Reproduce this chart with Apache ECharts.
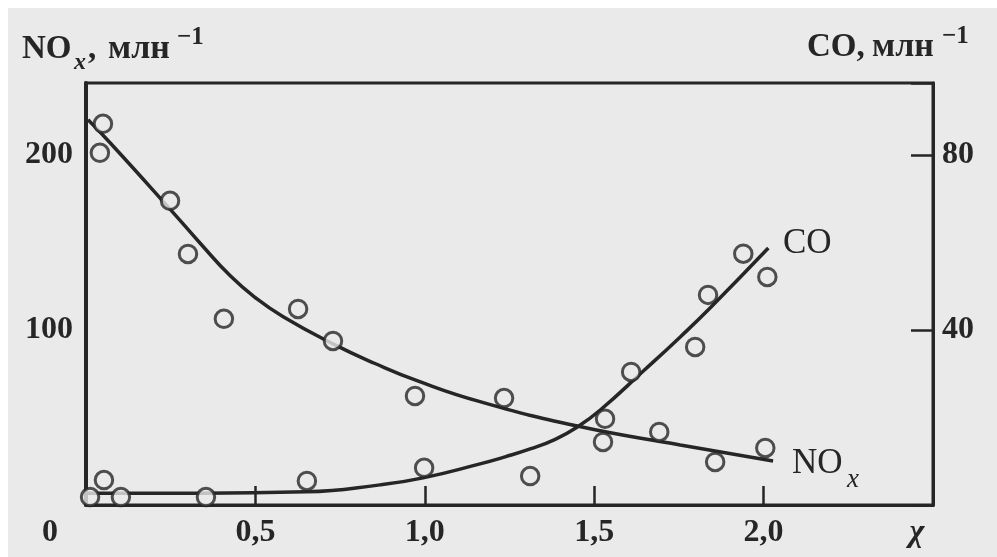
<!DOCTYPE html>
<html><head><meta charset="utf-8">
<script src="https://cdn.jsdelivr.net/npm/echarts@6/dist/echarts.min.js"></script>
<style>html,body{margin:0;padding:0;background:#fff}#c{width:997px;height:557px}</style>
</head><body><div id="c"></div>
<script>
// x (excess air ratio χ) tick values and labels
const xTickValues = [0, 0.5, 1.0, 1.5, 2.0, 2.5];
const xTickLabels = ['0', '0,5', '1,0', '1,5', '2,0', 'χ'];
const leftTickLabels = {100: '100', 200: '200'};
const rightTickLabels = {40: '40', 80: '80'};

// measured NOx points (x, ppm) – left axis
const noxX = [0.050, 0.041, 0.248, 0.301, 0.407, 0.626, 0.729, 0.971, 1.234, 1.526, 1.692, 1.857, 2.005];
const noxY = [217.7, 201.1, 173.7, 143.4, 106.3, 112.0, 93.7, 62.3, 61.1, 36.0, 41.7, 24.6, 32.6];
// measured CO points (x, ppm) – right axis
const coX = [0.012, 0.053, 0.103, 0.354, 0.652, 0.998, 1.311, 1.532, 1.609, 1.798, 1.836, 1.940, 2.011];
const coY = [1.8, 5.7, 1.8, 1.8, 5.5, 8.5, 6.6, 19.7, 30.4, 36.1, 48.0, 57.4, 52.1];

// fitted curves
const noxCurveX = [0.006, 0.071, 0.248, 0.337, 0.425, 0.499, 0.582, 0.729, 0.853, 0.977, 1.163, 1.450, 1.754, 2.028];
const noxCurveY = [220.0, 206.9, 169.0, 149.5, 131.0, 118.5, 107.5, 92.0, 80.8, 71.0, 59.0, 45.1, 34.3, 25.1];
const coCurveX = [0.0, 0.337, 0.650, 0.868, 0.995, 1.163, 1.237, 1.311, 1.385, 1.450, 1.518, 1.645, 1.754, 1.842, 2.014];
const coCurveY = [2.7, 2.7, 3.0, 4.6, 6.2, 9.4, 11.0, 12.8, 15.0, 17.8, 21.7, 30.6, 38.4, 45.0, 58.7];

const zip = (a, b) => a.map((v, i) => [v, b[i]]);
const INK = '#262626';
const BG = '#eaeaea';
const SERIF = '"Liberation Serif", "DejaVu Serif", serif';
const T = (x, y, text, font) => ({type: 'text', z: 10, style: {x, y, text, font: font + ' ' + SERIF, fill: INK, verticalAlign: 'middle'}});

const chart = echarts.init(document.getElementById('c'));
chart.setOption({
  backgroundColor: '#ffffff',
  animation: false,
  textStyle: {fontFamily: SERIF},
  graphic: [
    {type: 'rect', z: -10, shape: {x: 8, y: 8, width: 989, height: 549}, style: {fill: BG}},
    T(22, 49, 'NO', 'bold 33px'),
    T(74, 63, 'x', 'italic bold 24px'),
    T(88, 49, ',', 'bold 33px'),
    T(108, 49, 'млн', 'bold 34px'),
    T(177, 38, '−1', 'bold 25px'),
    T(807, 47, 'CO,', 'bold 33px'),
    T(872, 47, 'млн', 'bold 34px'),
    T(942, 37, '−1', 'bold 25px'),
    T(783, 244, 'CO', '35px'),
    T(792, 464, 'NO', '35px'),
    T(847, 480, 'x', 'italic 27px')
  ],
  grid: {left: 86, right: 64, top: 83, bottom: 52, show: true, borderColor: INK, borderWidth: 3, backgroundColor: 'transparent'},
  xAxis: {
    type: 'value', min: 0, max: 2.5, interval: 0.5,
    axisLine: {show: true, lineStyle: {color: INK, width: 3}},
    axisTick: {show: true, inside: true, length: 19, lineStyle: {color: INK, width: 2.5}},
    splitLine: {show: false},
    axisLabel: {
      margin: 12, color: INK, fontSize: 32, fontWeight: 'bold', fontFamily: SERIF,
      showMinLabel: true, showMaxLabel: true,
      formatter: function (v) {
        const i = xTickValues.findIndex(t => Math.abs(t - v) < 1e-6);
        if (i < 0) return '';
        if (i === 0) return '{o|' + xTickLabels[i] + '}';
        if (i === xTickValues.length - 1) return '{c|' + xTickLabels[i] + '}';
        return xTickLabels[i];
      },
      rich: {
        o: {fontSize: 32, fontWeight: 'bold', fontFamily: SERIF, color: INK, padding: [0, 72, 0, 0]},
        c: {fontSize: 32, fontStyle: 'italic', fontWeight: 'bold', fontFamily: SERIF, color: INK, padding: [0, 32, 0, 0]}
      }
    }
  },
  yAxis: [
    {
      type: 'value', min: 0, max: 241, interval: 100, position: 'left',
      axisLine: {show: true, lineStyle: {color: INK, width: 4}},
      axisTick: {show: false},
      splitLine: {show: false},
      axisLabel: {margin: 13, color: INK, fontSize: 32, fontWeight: 'bold', fontFamily: SERIF,
        formatter: v => leftTickLabels[Math.round(v)] && Math.abs(v - Math.round(v)) < 1e-6 ? leftTickLabels[Math.round(v)] : ''}
    },
    {
      type: 'value', min: 0, max: 96.4, interval: 40, position: 'right',
      axisLine: {show: true, lineStyle: {color: INK, width: 3}},
      axisTick: {show: true, inside: true, length: 22, lineStyle: {color: INK, width: 2.5}},
      splitLine: {show: false},
      axisLabel: {margin: 9, color: INK, fontSize: 32, fontWeight: 'bold', fontFamily: SERIF,
        formatter: v => rightTickLabels[Math.round(v)] && Math.abs(v - Math.round(v)) < 1e-6 ? rightTickLabels[Math.round(v)] : ''}
    }
  ],
  series: [
    {type: 'line', yAxisIndex: 0, data: zip(noxCurveX, noxCurveY), smooth: 0.5, smoothConstraint: false,
      showSymbol: false, lineStyle: {color: INK, width: 3.5}, z: 2},
    {type: 'line', yAxisIndex: 1, data: zip(coCurveX, coCurveY), smooth: 0.5, smoothConstraint: false,
      showSymbol: false, lineStyle: {color: INK, width: 3.5}, z: 2},
    {type: 'scatter', yAxisIndex: 0, data: zip(noxX, noxY), symbol: 'circle', symbolSize: 17.5,
      itemStyle: {color: BG, borderColor: INK, borderWidth: 3}, z: 3},
    {type: 'scatter', yAxisIndex: 1, data: zip(coX, coY), symbol: 'circle', symbolSize: 17.5,
      itemStyle: {color: BG, borderColor: INK, borderWidth: 3}, z: 3}
  ]
});
</script></body></html>
